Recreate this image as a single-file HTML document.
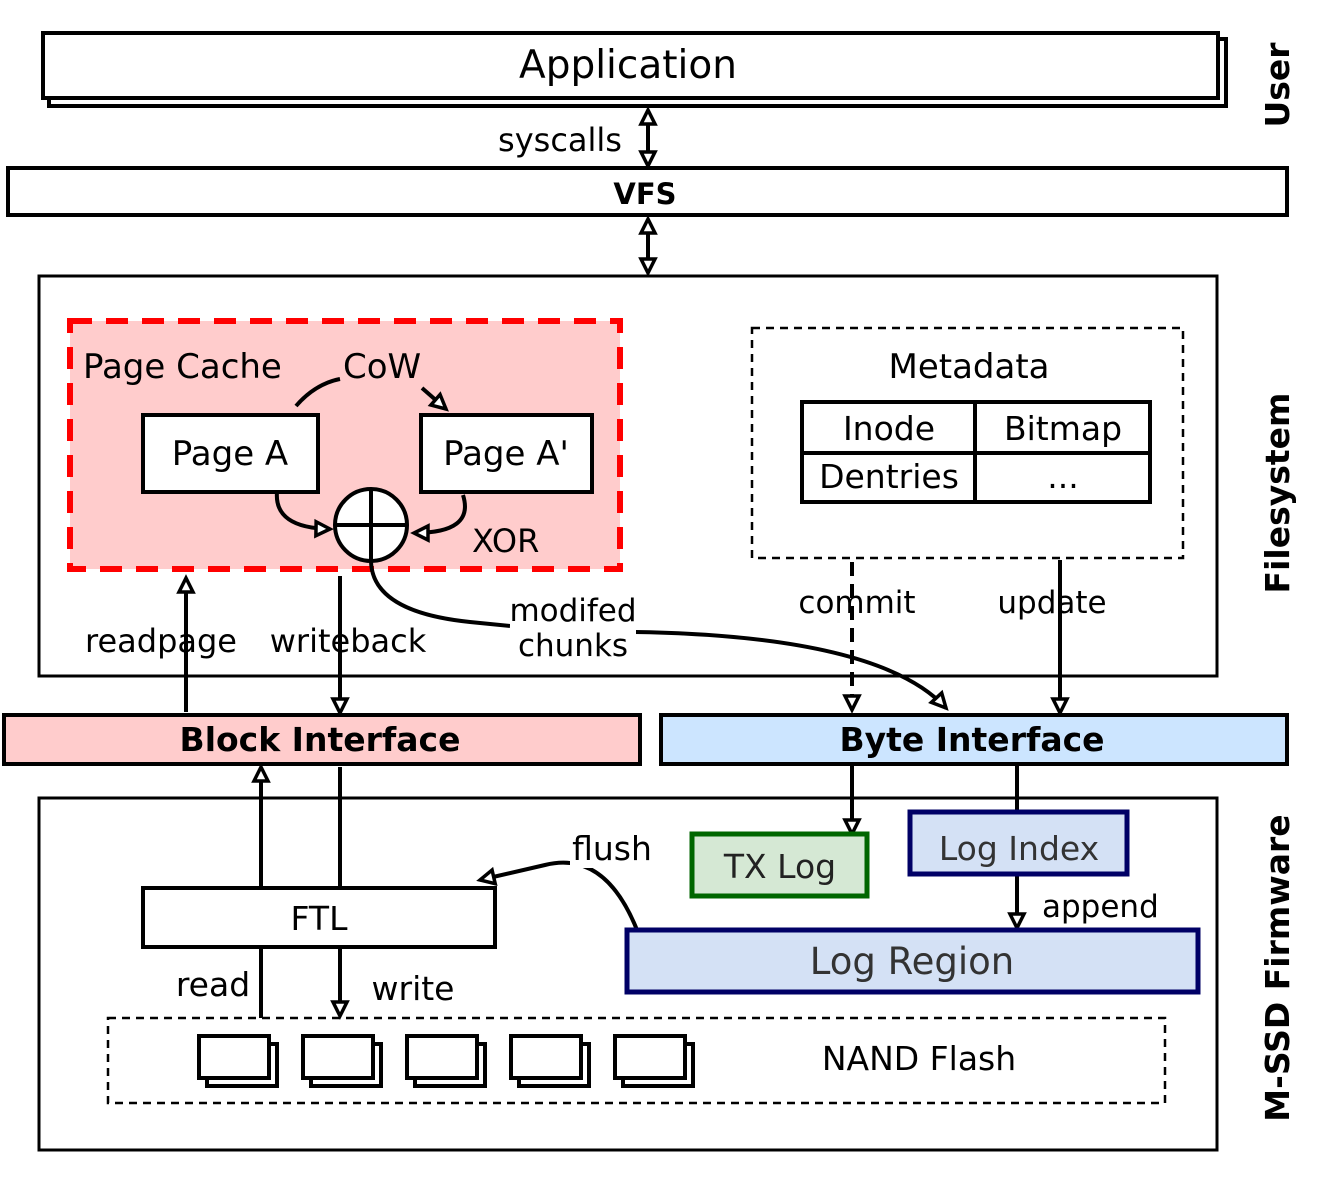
<!DOCTYPE html>
<html><head><meta charset="utf-8"><style>body{margin:0;background:#fff}svg{display:block}text{font-family:"DejaVu Sans","Liberation Sans",sans-serif}</style></head><body>
<svg width="1329" height="1196" viewBox="0 0 1329 1196" xmlns="http://www.w3.org/2000/svg">
<defs>
<marker id="a" markerWidth="20" markerHeight="20" refX="16" refY="10" orient="auto-start-reverse" markerUnits="userSpaceOnUse"><path d="M2,3 L16,10 L2,17 Z" fill="#fff" stroke="#000" stroke-width="3.5" stroke-linejoin="miter"/></marker>
</defs>
<g fill="none" stroke="#000" stroke-width="4">
<rect x="49" y="39" width="1177" height="67" fill="#fff"/>
<rect x="43" y="33" width="1175" height="65" fill="#fff"/>
<rect x="8" y="168" width="1279" height="47" fill="#fff"/>
<rect x="39" y="276" width="1178" height="400" stroke-width="3"/>
<rect x="39" y="798" width="1178" height="352" stroke-width="3"/>
</g>
<text x="628" y="78" font-size="39" text-anchor="middle">Application</text>
<text x="560" y="151" font-size="32" text-anchor="middle">syscalls</text>
<text x="645" y="204" font-size="29" font-weight="bold" text-anchor="middle">VFS</text>
<g stroke="#000" stroke-width="4" fill="none">
<line x1="648" y1="110" x2="648" y2="166" marker-start="url(#a)" marker-end="url(#a)"/>
<line x1="648" y1="219" x2="648" y2="273" marker-start="url(#a)" marker-end="url(#a)"/>
</g>
<rect x="70" y="321" width="550" height="248" fill="#ffcccc" stroke="#f00" stroke-width="6" stroke-dasharray="22,14"/>
<text x="83" y="378" font-size="34">Page Cache</text>
<text x="343" y="378" font-size="34">CoW</text>
<rect x="143" y="415" width="175" height="77" fill="#fff" stroke="#000" stroke-width="4"/>
<rect x="421" y="415" width="171" height="77" fill="#fff" stroke="#000" stroke-width="4"/>
<text x="230" y="465" font-size="34" text-anchor="middle">Page A</text>
<text x="506" y="465" font-size="34" text-anchor="middle">Page A'</text>
<g stroke="#000" stroke-width="4" fill="none">
<path d="M296,406 Q315,384 340,379"/>
<path d="M422,388 L446,409" marker-end="url(#a)"/>
<path d="M277,492 Q274,528 330,529" marker-end="url(#a)"/>
<path d="M463,495 Q475,533 414,533" marker-end="url(#a)"/>
<circle cx="371" cy="525" r="36" fill="#fff"/>
<line x1="371" y1="489" x2="371" y2="561"/><line x1="335" y1="525" x2="407" y2="525"/>
<path d="M371,561 Q372,612 470,622 L510,626"/>
<path d="M635,632 Q880,636 946,708" marker-end="url(#a)"/>
</g>
<text x="472" y="552" font-size="32">XOR</text>
<rect x="510" y="592" width="126" height="70" fill="#fff"/>
<text x="573" y="621" font-size="31" text-anchor="middle">modifed</text>
<text x="573" y="656" font-size="31" text-anchor="middle">chunks</text>
<rect x="752" y="328" width="431" height="230" fill="none" stroke="#000" stroke-width="2.5" stroke-dasharray="8,6"/>
<text x="969" y="378" font-size="34" text-anchor="middle">Metadata</text>
<g stroke="#000" stroke-width="4" fill="none">
<rect x="802" y="402" width="348" height="100"/>
<line x1="975" y1="402" x2="975" y2="502"/><line x1="802" y1="453" x2="1150" y2="453"/>
</g>
<text x="889" y="440" font-size="33" text-anchor="middle">Inode</text>
<text x="1063" y="440" font-size="33" text-anchor="middle">Bitmap</text>
<text x="889" y="488" font-size="33" text-anchor="middle">Dentries</text>
<text x="1063" y="488" font-size="33" text-anchor="middle">...</text>
<g stroke="#000" stroke-width="4" fill="none">
<line x1="852" y1="562" x2="852" y2="710" stroke-dasharray="14,8" marker-end="url(#a)"/>
<line x1="1060" y1="560" x2="1060" y2="713" marker-end="url(#a)"/>
<line x1="186" y1="712" x2="186" y2="578" marker-end="url(#a)"/>
<line x1="340" y1="576" x2="340" y2="713" marker-end="url(#a)"/>
</g>
<text x="857" y="613" font-size="31" text-anchor="middle">commit</text>
<text x="1052" y="613" font-size="31" text-anchor="middle">update</text>
<text x="161" y="652" font-size="32" text-anchor="middle">readpage</text>
<text x="348" y="652" font-size="32" text-anchor="middle">writeback</text>
<rect x="4" y="715" width="636" height="49" fill="#ffcccc" stroke="#000" stroke-width="4"/>
<rect x="661" y="715" width="626" height="49" fill="#cce5ff" stroke="#000" stroke-width="4"/>
<text x="320" y="751" font-size="33" font-weight="bold" text-anchor="middle">Block Interface</text>
<text x="972" y="751" font-size="33" font-weight="bold" text-anchor="middle">Byte Interface</text>
<g stroke="#000" stroke-width="4" fill="none">
<line x1="261" y1="888" x2="261" y2="767" marker-end="url(#a)"/>
<line x1="340" y1="767" x2="340" y2="888"/>
<line x1="261" y1="947" x2="261" y2="1018"/>
<line x1="340" y1="947" x2="340" y2="1016" marker-end="url(#a)"/>
<line x1="852" y1="764" x2="852" y2="834" marker-end="url(#a)"/>
<line x1="1017" y1="764" x2="1017" y2="812"/>
<line x1="1017" y1="874" x2="1017" y2="928" marker-end="url(#a)"/>
<path d="M637,930 Q605,850 545,865 L480,880" marker-end="url(#a)"/>
</g>
<rect x="143" y="888" width="352" height="59" fill="#fff" stroke="#000" stroke-width="4"/>
<text x="319" y="930" font-size="33" text-anchor="middle">FTL</text>
<text x="213" y="996" font-size="33" text-anchor="middle">read</text>
<text x="413" y="1000" font-size="33" text-anchor="middle">write</text>
<rect x="570" y="828" width="84" height="40" fill="#fff"/>
<text x="612" y="860" font-size="33" text-anchor="middle">flush</text>
<rect x="692" y="834" width="175" height="62" fill="#d5e8d4" stroke="#006600" stroke-width="5"/>
<text x="780" y="878" font-size="33" text-anchor="middle" fill="#222">TX Log</text>
<rect x="910" y="812" width="217" height="62" fill="#d4e1f5" stroke="#000066" stroke-width="5"/>
<text x="1019" y="860" font-size="33" text-anchor="middle" fill="#333">Log Index</text>
<text x="1042" y="917" font-size="31">append</text>
<rect x="627" y="930" width="571" height="62" fill="#d4e1f5" stroke="#000066" stroke-width="5"/>
<text x="912" y="974" font-size="37" text-anchor="middle" fill="#333">Log Region</text>
<rect x="108" y="1018" width="1057" height="85" fill="none" stroke="#000" stroke-width="2.5" stroke-dasharray="8,6"/>
<g stroke="#000" stroke-width="4" fill="#fff">
<rect x="207" y="1044" width="70" height="42"/><rect x="199" y="1036" width="70" height="42"/>
<rect x="311" y="1044" width="70" height="42"/><rect x="303" y="1036" width="70" height="42"/>
<rect x="415" y="1044" width="70" height="42"/><rect x="407" y="1036" width="70" height="42"/>
<rect x="519" y="1044" width="70" height="42"/><rect x="511" y="1036" width="70" height="42"/>
<rect x="623" y="1044" width="70" height="42"/><rect x="615" y="1036" width="70" height="42"/>
</g>
<text x="919" y="1070" font-size="33" text-anchor="middle">NAND Flash</text>
<g font-size="33" font-weight="bold" text-anchor="middle">
<text transform="translate(1289,85) rotate(-90)">User</text>
<text transform="translate(1289,493) rotate(-90)">Filesystem</text>
<text transform="translate(1289,968) rotate(-90)">M-SSD Firmware</text>
</g>
</svg>
</body></html>
